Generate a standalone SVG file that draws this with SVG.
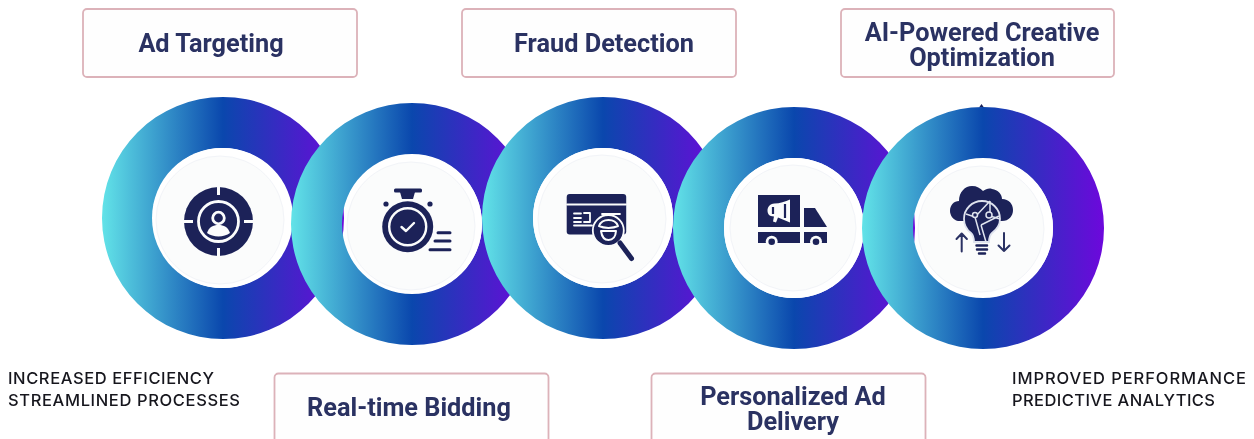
<svg xmlns="http://www.w3.org/2000/svg" width="1254" height="439" viewBox="0 0 1254 439">
<style>
.box{fill:#fefefe;stroke:#dcb2b9;stroke-width:1.800}
.lab{font-family:Roboto,"Liberation Sans",sans-serif;font-weight:700;font-size:25.300px;fill:#2a3162;text-anchor:middle}
.note{font-family:Inter,"Liberation Sans",sans-serif;font-weight:500;font-size:16.500px;fill:#17171f}
.hole{fill:#fff}
.disc{fill:#fbfcfc;stroke:#f2f4f8;stroke-width:1}
.d{fill:#1b2259}
.w{fill:none;stroke:#fbfcfc;stroke-width:2.400;stroke-linecap:round;stroke-linejoin:round}
.dl{fill:none;stroke:#1b2259;stroke-width:3;stroke-linecap:round;stroke-linejoin:round}
</style>
<defs>
<linearGradient id="g" x1="0" y1="0" x2="1" y2="0">
<stop offset="0" stop-color="#62e3e8"/><stop offset=".5" stop-color="#0a47ad"/><stop offset="1" stop-color="#6d08dc"/>
</linearGradient>
<filter id="soft" x="-5%" y="-5%" width="110%" height="110%"><feGaussianBlur stdDeviation=".45"/></filter>
<path id="ring" fill="url(#g)" fill-rule="evenodd" d="M-121,0a121,121 0 1,0 242,0a121,121 0 1,0 -242,0ZM-70,0a70,70 0 1,0 140,0a70,70 0 1,0 -140,0Z"/>
</defs>
<rect width="1254" height="439" fill="#fff"/>

<g id="box-ad-targeting"><rect class="box" x="83" y="9" width="274" height="68" rx="4"/><text class="lab" x="211" y="52" filter="url(#soft)">Ad Targeting</text></g>
<g id="box-fraud-detection"><rect class="box" x="462" y="9" width="274" height="68" rx="4"/><text class="lab" x="604" y="52" filter="url(#soft)">Fraud Detection</text></g>
<g id="box-creative"><rect class="box" x="841" y="9" width="273" height="68" rx="4"/><text class="lab" filter="url(#soft)"><tspan x="982" y="41">AI-Powered Creative</tspan><tspan x="982" y="66">Optimization</tspan></text></g>
<g id="box-bidding"><rect class="box" x="274.500" y="373.500" width="274" height="70" rx="4"/><text class="lab" x="409" y="416" filter="url(#soft)">Real-time Bidding</text></g>
<g id="box-delivery"><rect class="box" x="651.500" y="373.500" width="274" height="70" rx="4"/><text class="lab" filter="url(#soft)"><tspan x="793" y="405">Personalized Ad</tspan><tspan x="793" y="430">Delivery</tspan></text></g>

<g id="node-targeting">
<use href="#ring" x="223" y="218"/><circle class="hole" cx="222" cy="218" r="70"/><circle class="disc" cx="220" cy="220" r="64"/>
<g filter="url(#soft)">
<circle class="d" cx="218.500" cy="221.500" r="34.500"/>
<path class="w" style="stroke-linecap:butt;stroke-width:3" d="M218.500 186v9M218.500 248v9M183 221.500h10M244 221.500h10"/>
<circle class="w" style="stroke-width:2.800" cx="218.500" cy="221.500" r="20"/>
<circle class="w" style="stroke-width:2.800" cx="218.500" cy="218" r="5.800"/>
<path d="M207 233c2-6 6-8 11.500-8s9.500 2 11.500 8c-6 4.500-17 4.500-23 0z" fill="#fbfcfc"/>
</g></g>

<g id="node-bidding">
<use href="#ring" x="412" y="224"/><circle class="hole" cx="413" cy="224" r="69"/><circle class="disc" cx="411" cy="226" r="64"/>
<g filter="url(#soft)">
<rect class="d" x="394" y="188.500" width="28" height="4" rx="1.500"/><path class="d" d="M400 192h15l-2 7h-11z"/>
<circle class="d" cx="407.700" cy="226.700" r="25.500"/>
<circle class="w" cx="407.700" cy="226.700" r="18.500"/>
<path class="w" d="M401.500 227l4.500 4 8-8"/>
<circle class="d" cx="386" cy="204" r="2.600"/><circle class="d" cx="430" cy="204" r="2.600"/>
<path class="dl" d="M438 232.700h12M435 241h15M430 249.700h20"/>
</g></g>

<g id="node-fraud">
<use href="#ring" x="603" y="218"/><circle class="hole" cx="603" cy="218" r="70"/><circle class="disc" cx="602" cy="219" r="64"/>
<g filter="url(#soft)">
<rect class="d" x="566.700" y="194" width="59.500" height="40.500" rx="3"/>
<path class="w" style="stroke-width:1.800" d="M567 204.500h59M574 213.500h7M574 218h7M574 222h7M584 213h6v9h-6M574 225.500h18M602 214h18M604 218.500h13"/>
<circle class="d" style="stroke:#fbfcfc;stroke-width:1.800" cx="608.300" cy="230.500" r="15.500"/>
<path class="w" style="stroke-width:2" d="M599 226c3-8 16-8 19 0c-5 2.500-14 2.500-19 0ZM601 231c1 7 4 9 7.500 9s7-2 7.500-9z"/>
<path class="dl" style="stroke-width:5" d="M620 243l11.500 15.500"/>
</g></g>

<g id="node-delivery">
<use href="#ring" x="794" y="228"/><circle class="hole" cx="794" cy="228" r="70"/><circle class="disc" cx="793" cy="228" r="63"/>
<g filter="url(#soft)">
<rect class="d" x="758" y="195" width="42" height="32"/>
<path class="d" d="M804 208h11l12 19h-23z"/>
<path class="d" d="M758 232h42v11h-42zM804 232h23v11h-23z"/>
<circle cx="771.700" cy="241.700" r="6" fill="#fbfcfc"/><circle class="d" cx="771.700" cy="241.700" r="3.300"/>
<circle cx="816" cy="241.700" r="6" fill="#fbfcfc"/><circle class="d" cx="816" cy="241.700" r="3.300"/>
<path d="M790 199.500v23l-12-5-2 5-3-1 1-5c-5 0-6.500-3-6.500-6s2-7 7-7c5 0 11-2 15.500-4z" fill="#fbfcfc"/>
<path d="M773 207v7M785 204v14" style="stroke:#1b2259;stroke-width:2.200" fill="none"/>
</g></g>

<g id="node-creative">
<path class="d" d="M981.500 104l2.500 3.500h-5z"/>
<use href="#ring" x="983" y="228"/><circle class="hole" cx="984" cy="228" r="69"/><circle class="disc" cx="981" cy="229" r="63"/>
<g filter="url(#soft)">
<path class="d" d="M958 221c-5-1-8-6-8-10 0-6 4-10 9-10 0-9 6-15 13-15 5 0 8 2 11 5 3-2 6-3 9-2 6 1 10 5 10 10 7 0 11 5 11 11 0 6-4 11-11 11H960z"/>
<path class="d" style="stroke:#dfe3ee;stroke-width:1.800" d="M982 201c-10 0-18 8-18 18 0 6 3 11 7 14 2 2 3 4 3 9h15c0-5 1-7 3-9 4-3 8-8 8-14 0-10-8-18-18-18z"/>
<path fill="none" style="stroke:#dfe3ee;stroke-width:1.500" d="M966 214l9 3 5 18M975 217l15-16M990 216l10 3M981 225l18-9M990 201v15M981 225l5 17"/>
<circle class="d" style="stroke:#dfe3ee;stroke-width:1.500" cx="975" cy="215" r="2.500"/><circle class="d" style="stroke:#dfe3ee;stroke-width:1.500" cx="989" cy="215" r="3"/>
<path class="dl" style="stroke-width:2.500" d="M976.500 245.500h10.500M977 249.500h10M979 253.500h6"/>
<path fill="none" style="stroke:#2b3264;stroke-width:2;stroke-linecap:round;stroke-linejoin:round" d="M961.700 251.500V234M956.500 239l5.200-5.500 5.200 5.500M1004 233v18M998.500 245.500l5.500 5.500 5.500-5.500"/>
</g></g>

<text class="note" filter="url(#soft)" id="note-left"><tspan x="8" y="384" textLength="206" lengthAdjust="spacing">INCREASED EFFICIENCY</tspan><tspan x="8" y="406" textLength="232" lengthAdjust="spacing">STREAMLINED PROCESSES</tspan></text>
<text class="note" filter="url(#soft)" id="note-right"><tspan x="1012" y="384" textLength="234" lengthAdjust="spacing">IMPROVED PERFORMANCE</tspan><tspan x="1012" y="406" textLength="203" lengthAdjust="spacing">PREDICTIVE ANALYTICS</tspan></text>
</svg>
